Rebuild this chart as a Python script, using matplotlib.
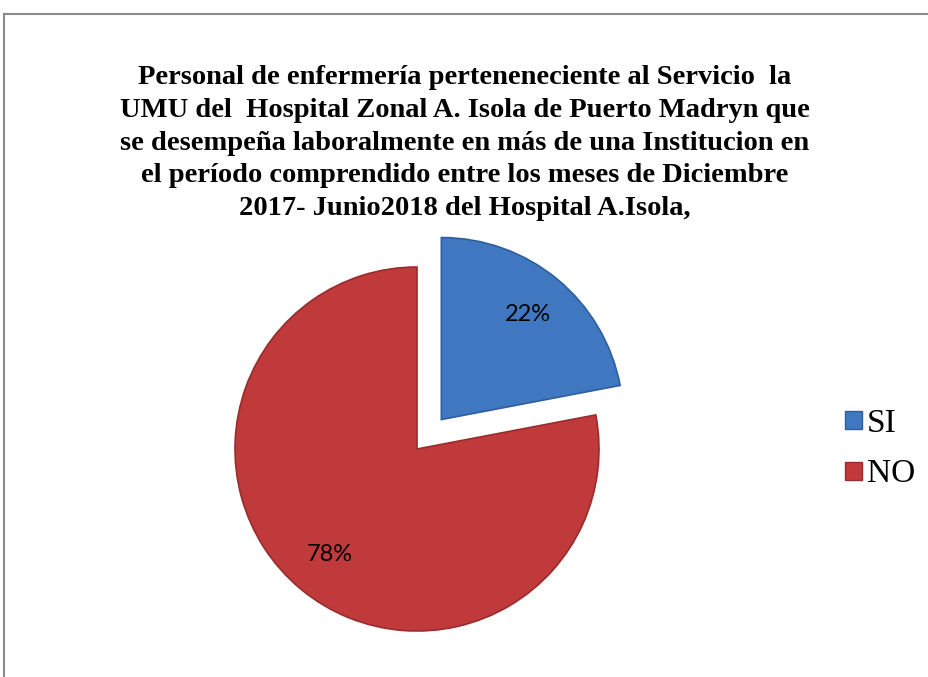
import matplotlib.pyplot as plt
from matplotlib.lines import Line2D
from matplotlib.patches import Patch

labels = ["SI", "NO"]
values = [22, 78]
colors = ["#3F78C1", "#C0393B"]
edges = ["#2F5E9C", "#9A2B2D"]
explode = [0.21, 0]

title = ("Personal de enfermería perteneneciente al Servicio  la\n"
         "UMU del  Hospital Zonal A. Isola de Puerto Madryn que\n"
         "se desempeña laboralmente en más de una Institucion en\n"
         "el período comprendido entre los meses de Diciembre\n"
         "2017- Junio2018 del Hospital A.Isola,")

W, H = 929, 677
fig = plt.figure(figsize=(W / 100, H / 100), dpi=100)

# pie centre and radius in pixels
cx, cy, r = 417, 449, 182
half = 1.3 * r
ax = fig.add_axes([(cx - half) / W, (H - cy - half) / H, 2 * half / W, 2 * half / H])

wedges, texts, autotexts = ax.pie(
    values, colors=colors, explode=explode, startangle=90, counterclock=False,
    autopct="%1.0f%%", pctdistance=0.75,
    wedgeprops=dict(linewidth=1.2),
    textprops=dict(fontsize=17, family="Lato", color="black"),
)
for w, ec in zip(wedges, edges):
    w.set_edgecolor(ec)
ax.set_xlim(-1.3, 1.3)
ax.set_ylim(-1.3, 1.3)
ax.set_aspect("equal")
ax.axis("off")

fig.text(465 / W, 1 - 143 / H, title, ha="center", va="center",
         family="Liberation Serif", fontweight="bold", fontsize=20.5,
         linespacing=1.41)

handles = [Patch(facecolor=c, edgecolor=e) for c, e in zip(colors, edges)]
fig.legend(handles, labels, loc="center left", bbox_to_anchor=(845 / W, 1 - 449 / H),
           frameon=False, handlelength=0.5, handleheight=0.45, handletextpad=0.15,
           labelspacing=0.6, borderpad=0, borderaxespad=0,
           prop=dict(family="Liberation Serif", size=24))

# chart frame (top and left edges visible)
fig.add_artist(Line2D([4 / W, 1], [1 - 14 / H, 1 - 14 / H], color="#8A8A8A", lw=1.5))
fig.add_artist(Line2D([4 / W, 4 / W], [0, 1 - 14 / H], color="#8A8A8A", lw=1.5))

fig.savefig("out.png", dpi=100)
